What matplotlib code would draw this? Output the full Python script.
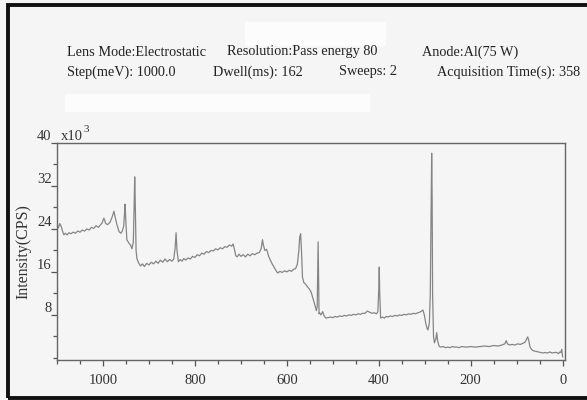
import matplotlib

matplotlib.use("Agg")
import matplotlib.pyplot as plt
from matplotlib.patches import Rectangle
from matplotlib.ticker import MultipleLocator

# Binding energy (eV) and intensity (x10^3 CPS)
binding_energy = [
    1100, 1097, 1094, 1091, 1088, 1085, 1082, 1078, 1074, 1070, 1065, 1060, 1055, 1050,
    1045, 1040, 1035, 1030, 1025, 1020, 1015, 1010, 1006, 1002, 998, 994, 990, 985, 981,
    978, 976, 973, 969, 965, 961, 958, 955, 953, 952, 950, 948, 944, 940, 937, 934, 932,
    931, 930, 928, 926, 922, 918, 914, 910, 905, 900, 895, 890, 885, 880, 875, 870, 865,
    860, 855, 850, 846, 843, 841, 839, 836, 832, 828, 824, 820, 815, 810, 805, 800, 795,
    790, 785, 780, 775, 770, 765, 760, 755, 750, 745, 740, 735, 730, 725, 720, 717, 714,
    711, 708, 704, 700, 695, 690, 685, 680, 675, 670, 665, 660, 656, 653, 651, 648, 644,
    640, 636, 632, 628, 624, 620, 615, 610, 605, 600, 595, 590, 585, 581, 577, 574, 572,
    570, 568, 566, 563, 559, 555, 551, 547, 543, 539, 536, 534, 533, 532, 531, 530, 529,
    526, 522, 519, 515, 510, 505, 500, 495, 490, 485, 480, 475, 470, 465, 460, 455, 450,
    445, 440, 435, 430, 425, 420, 415, 410, 405, 402, 400, 399, 398, 396, 392, 388, 384,
    380, 375, 370, 365, 360, 355, 350, 345, 340, 335, 330, 325, 320, 315, 311, 307, 304,
    301, 298, 295, 293, 290, 288, 286, 285, 284, 283, 281, 279, 276, 274, 272, 269, 266,
    260, 255, 250, 245, 240, 235, 230, 225, 220, 210, 200, 190, 180, 170, 160, 150, 140,
    132, 126, 123, 120, 116, 110, 104, 98, 92, 87, 82, 79, 76, 74, 71, 67, 63, 58, 53,
    48, 43, 38, 33, 28, 23, 18, 13, 9, 6, 4, 2, 1, 0,
]
intensity_k = [
    24.8, 24.2, 25.0, 24.5, 23.6, 22.9, 23.2, 22.9, 23.3, 23.1, 23.4, 23.2, 23.6, 23.4,
    23.8, 23.6, 24.0, 23.8, 24.3, 24.1, 24.6, 24.3, 24.7, 25.1, 26.0, 25.0, 24.8, 25.2, 26.0,
    26.8, 27.3, 26.0, 24.6, 23.5, 23.2, 23.6, 24.5, 27.0, 28.6, 25.0, 22.0, 21.4, 21.0, 20.3,
    21.5, 29.0, 33.7, 30.0, 20.0, 18.4, 17.6, 17.1, 17.5, 17.0, 17.6, 17.3, 17.8, 17.5, 18.0,
    17.6, 18.2, 17.8, 18.4, 17.9, 18.3, 18.0, 18.4, 20.5, 23.3, 20.0, 17.9, 18.3, 18.0, 18.5,
    18.2, 18.6, 18.4, 18.9, 18.7, 19.2, 19.0, 19.5, 19.3, 19.8, 19.6, 20.0, 19.9, 20.3, 20.1,
    20.5, 20.3, 20.7, 20.6, 21.0, 20.8, 21.2, 20.2, 19.0, 18.8, 19.3, 18.9, 19.2, 18.8, 19.3,
    19.0, 19.4, 19.2, 19.5, 19.6, 20.3, 22.0, 21.0, 20.0, 20.2, 19.0, 18.2, 17.5, 16.9, 16.3,
    15.8, 16.1, 15.9, 16.2, 16.0, 16.3, 16.1, 16.5, 16.6, 17.5, 20.0, 22.5, 23.1, 19.5, 15.0,
    14.0, 13.7, 13.2, 12.8, 12.2, 11.0, 9.8, 8.8, 9.5, 16.0, 21.6, 15.0, 8.2, 8.4, 8.0, 8.6,
    7.8, 7.4, 7.5, 7.6, 7.5, 7.7, 7.6, 7.8, 7.7, 7.9, 7.8, 8.0, 7.9, 8.1, 8.0, 8.2, 8.1, 8.3,
    8.3, 8.7, 8.5, 8.3, 8.4, 8.2, 8.6, 13.0, 16.9, 12.0, 7.4, 7.6, 7.4, 7.7, 7.6, 7.8, 7.7,
    7.9, 7.8, 8.0, 7.9, 8.1, 8.0, 8.2, 8.1, 8.3, 8.2, 8.4, 8.5, 8.7, 8.9, 8.0, 6.5, 5.5, 5.2,
    6.5, 12.0, 30.0, 38.1, 30.0, 12.0, 4.0, 2.8, 3.5, 4.7, 3.2, 2.2, 2.0, 2.1, 1.9, 2.0, 1.9,
    2.1, 2.0, 2.0, 1.9, 2.1, 2.0, 2.1, 2.0, 2.1, 2.2, 2.1, 2.3, 2.2, 2.4, 2.6, 3.2, 2.6, 2.4,
    2.5, 2.4, 2.6, 2.5, 2.7, 2.9, 3.4, 3.9, 3.3, 2.0, 1.5, 1.3, 1.2, 1.1, 1.0, 0.9, 1.0, 0.9,
    1.1, 0.9, 1.0, 1.0, 0.8, 1.1, 1.0, 1.6, 0.8, 0.2,
]

x_ticks = [1000, 800, 600, 400, 200, 0]
y_ticks = [8, 16, 24, 32, 40]

header_line1 = [
    (0.114, "Lens Mode:Electrostatic"),
    (0.387, "Resolution:Pass energy 80"),
    (0.719, "Anode:Al(75 W)"),
]
header_line2 = [
    (0.114, "Step(meV): 1000.0"),
    (0.363, "Dwell(ms): 162"),
    (0.578, "Sweeps: 2"),
    (0.745, "Acquisition Time(s): 358"),
]

plt.rcParams["font.family"] = ["Liberation Serif", "DejaVu Serif"]

fig = plt.figure(figsize=(5.87, 4.0), dpi=100, facecolor="#f5f5f5")

# slightly whiter paper patches of the scan
for (x0, y0, w, h) in [(0.417, 0.885, 0.24, 0.06), (0.11, 0.72, 0.52, 0.045)]:
    fig.patches.append(Rectangle((x0, y0), w, h, transform=fig.transFigure,
                                 facecolor="#fcfcfc", edgecolor="none", zorder=0))

# black frame of the scanned page (right side runs off the image)
fig.patches.append(Rectangle((0.0136, 0.005), 1.2, 0.9825, transform=fig.transFigure,
                             fill=False, edgecolor="#111111", linewidth=2.8, zorder=5))

for x, s in header_line1:
    fig.text(x, 0.870, s, fontsize=10.3, color="#222222", va="center")
for x, s in header_line2:
    fig.text(x, 0.820, s, fontsize=10.3, color="#222222", va="center")

ax = fig.add_axes([0.0971, 0.10, 0.8654, 0.5425])
ax.set_facecolor("none")
ax.plot(binding_energy, intensity_k, color="#858585", linewidth=0.9)

ax.set_xlim(1100, -5)
ax.set_ylim(-0.4, 40)
ax.set_xticks(x_ticks)
ax.set_yticks(y_ticks)
ax.xaxis.set_minor_locator(MultipleLocator(50))
ax.yaxis.set_minor_locator(MultipleLocator(4))
ax.tick_params(which="both", direction="out", colors="#555555", labelcolor="#333333",
               labelsize=10.5, width=0.9)
ax.tick_params(which="major", length=4)
ax.tick_params(which="minor", length=3)
ax.tick_params(axis="y", pad=0)
ax.tick_params(axis="x", pad=6)
# y tick labels sit on top of their tick marks, as in the original print
for lab in ax.get_yticklabels():
    lab.set_verticalalignment("bottom")
for sp in ax.spines.values():
    sp.set_color("#666666")
    sp.set_linewidth(1.0)

ax.set_ylabel("Intensity(CPS)", fontsize=11.5, color="#333333", labelpad=4)
ax.text(0.008, 1.0, "x10", transform=ax.transAxes, fontsize=10.5, color="#333333",
        va="bottom", ha="left")
ax.text(0.053, 1.04, "3", transform=ax.transAxes, fontsize=8, color="#333333",
        va="bottom", ha="left")

fig.savefig("out.png", dpi=100, facecolor=fig.get_facecolor())
